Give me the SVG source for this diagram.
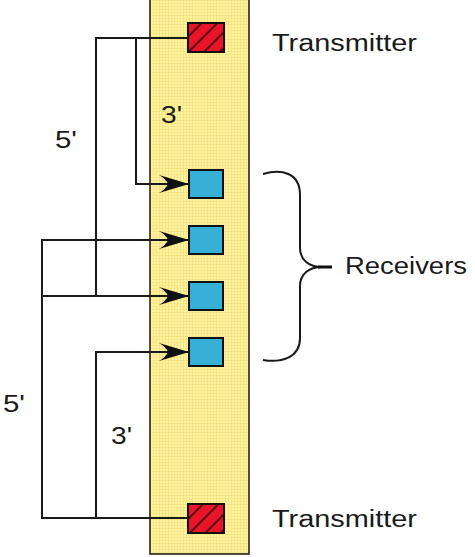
<svg xmlns="http://www.w3.org/2000/svg" width="475" height="557" viewBox="0 0 475 557">
  <style>
    .lbl { font-family: "Liberation Sans", Arial, sans-serif; font-size: 23px; fill: #1a1a1a; }
    .wire { fill: none; stroke: #1a1a1a; stroke-width: 2; }
    .rx { fill: #36b0d6; stroke: #111; stroke-width: 2; }
    .tx { fill: url(#hatch); stroke: #111; stroke-width: 2; }
  </style>
  <defs>
    <pattern id="grid" width="3" height="3" patternUnits="userSpaceOnUse">
      <rect width="3" height="3" fill="#fff3a0"/>
      <path d="M0,0.5 H3 M0.5,0 V3" stroke="#f2df78" stroke-width="0.6" fill="none"/>
    </pattern>
    <pattern id="hatch" width="11" height="11" patternUnits="userSpaceOnUse" patternTransform="rotate(-45)">
      <rect width="11" height="11" fill="#e8142a"/>
      <rect width="11" height="2" y="4" fill="#5a0a10"/>
    </pattern>
    <marker id="dart" markerWidth="34" markerHeight="20" refX="32" refY="10" orient="auto" markerUnits="userSpaceOnUse">
      <path d="M32,10 L2,1 Q9,5 11,10 Q9,15 2,19 Z" fill="#111"/>
    </marker>
  </defs>

  <rect x="0" y="0" width="475" height="557" fill="#ffffff"/>
  <rect id="strip" x="150" y="-1" width="99" height="555" fill="url(#grid)" stroke="#222" stroke-width="1.6"/>

  <g id="connectors">
    <path class="wire" d="M188,38 H96 V296 H42" />
    <path class="wire" d="M96,296 H189" marker-end="url(#dart)"/>
    <path class="wire" d="M136,38 V184 H189" marker-end="url(#dart)"/>
    <path class="wire" d="M188,518 H42 V240 H189" marker-end="url(#dart)"/>
    <path class="wire" d="M96,518 V352 H189" marker-end="url(#dart)"/>
    <path class="wire" d="M263,174 C281,169 300,172 300,195 V248 C300,260 309,267 322,267 C309,267 300,274 300,286 V338 C300,358 281,363 263,360"/>
    <path d="M318,267 H332" stroke="#111" stroke-width="3"/>
  </g>

  <g id="tx-top">
    <rect class="tx" x="188" y="23" width="36" height="29"/>
  </g>
  <g id="rx-1"><rect class="rx" x="189" y="170" width="34" height="28"/></g>
  <g id="rx-2"><rect class="rx" x="189" y="226" width="34" height="28"/></g>
  <g id="rx-3"><rect class="rx" x="189" y="282" width="34" height="28"/></g>
  <g id="rx-4"><rect class="rx" x="189" y="338" width="34" height="28"/></g>
  <g id="tx-bottom">
    <rect class="tx" x="188" y="504" width="36" height="29"/>
  </g>

  <g id="labels">
    <text class="lbl" x="272" y="51" textLength="145" lengthAdjust="spacingAndGlyphs">Transmitter</text>
    <text class="lbl" x="272" y="527" textLength="145" lengthAdjust="spacingAndGlyphs">Transmitter</text>
    <text class="lbl" x="345" y="274" textLength="122" lengthAdjust="spacingAndGlyphs">Receivers</text>
    <text class="lbl" x="161" y="123" textLength="21" lengthAdjust="spacingAndGlyphs">3'</text>
    <text class="lbl" x="55" y="148" textLength="22" lengthAdjust="spacingAndGlyphs">5'</text>
    <text class="lbl" x="3" y="412" textLength="22" lengthAdjust="spacingAndGlyphs">5'</text>
    <text class="lbl" x="111" y="444" textLength="21" lengthAdjust="spacingAndGlyphs">3'</text>
  </g>
</svg>
